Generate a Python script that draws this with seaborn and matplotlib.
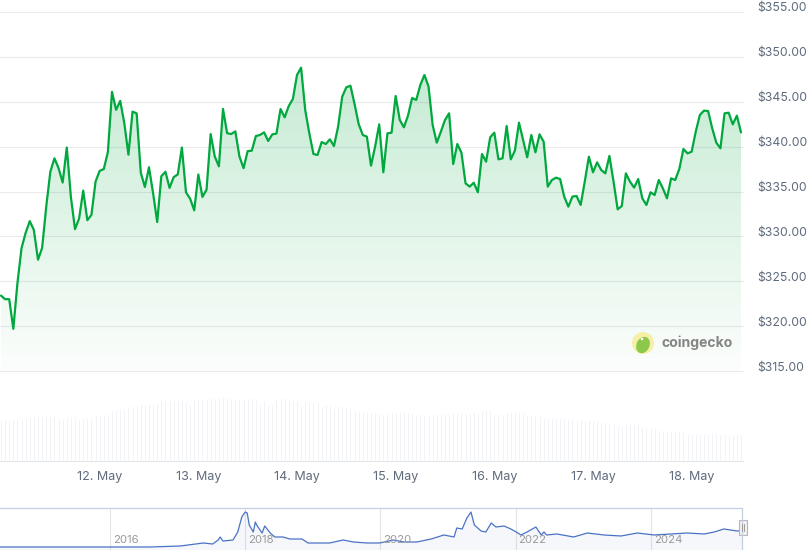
import numpy as np
import pandas as pd
import matplotlib
matplotlib.use("Agg")
import matplotlib.pyplot as plt
import matplotlib.dates as mdates
from matplotlib.transforms import ScaledTranslation, IdentityTransform, offset_copy
from matplotlib.patches import Circle, Ellipse, Rectangle
from matplotlib.lines import Line2D
import seaborn as sns

# ---------------- data ----------------
start_time = "2025-05-11 00:00"
prices = [
    323.4, 323.0, 323.0, 319.7, 324.8, 328.7, 330.4, 331.7, 330.7, 327.4,
    328.7, 333.3, 337.2, 338.7, 337.6, 336.0, 339.9, 334.4, 330.8, 332.0,
    335.1, 331.8, 332.4, 336.1, 337.3, 337.5, 339.4, 346.1, 344.1, 345.1,
    342.6, 339.1, 343.9, 343.7, 337.1, 335.5, 337.7, 334.8, 331.6, 336.7,
    337.2, 335.4, 336.6, 336.9, 339.9, 334.9, 334.2, 332.9, 336.9, 334.4,
    335.2, 341.4, 338.9, 337.8, 344.2, 341.5, 341.4, 341.7, 338.9, 337.6,
    339.5, 339.55, 341.18, 341.30, 341.59, 340.63, 341.37, 341.45, 344.19, 343.26,
    344.53, 345.31, 347.98, 348.80, 344.08, 341.48, 339.18, 339.07, 340.51, 340.29,
    340.81, 340.07, 342.22, 345.57, 346.61, 346.79, 344.75, 342.52, 341.30, 341.11,
    337.88, 340.00, 342.48, 337.14, 341.48, 341.55, 345.64, 342.97, 342.15, 343.45,
    345.42, 345.20, 346.87, 347.98, 346.68, 342.41, 340.44, 341.67, 342.97, 343.71,
    338.06, 340.29, 339.33, 335.91, 335.54, 335.98, 334.91, 339.18, 338.32, 341.04,
    341.55, 338.58, 338.70, 342.30, 338.58, 339.55, 342.67, 340.74, 338.81, 341.30,
    339.36, 341.37, 340.55, 335.54, 336.28, 336.54, 336.39, 334.43, 333.31, 334.43,
    334.50, 333.50, 336.10, 338.88, 337.14, 338.25, 337.40, 337.02, 338.96, 336.10,
    333.01, 333.38, 337.02, 336.10, 335.43, 336.39, 334.24, 333.50, 334.91, 334.61,
    336.28, 335.35, 334.24, 336.47, 336.28, 337.51, 339.74, 339.25, 339.44, 341.67,
    343.53, 344.01, 343.97, 342.04, 340.44, 339.81, 343.71, 343.78, 342.48, 343.45,
    341.59,
]
volumes = [
    417, 417, 417, 417, 417, 430, 440, 440, 440, 450,
    440, 450, 450, 450, 430, 417, 440, 450, 450, 430,
    430, 440, 440, 460, 460, 470, 470, 507, 520, 530,
    520, 540, 560, 560, 570, 570, 570, 570, 580, 610,
    610, 610, 600, 610, 610, 600, 570, 620, 620, 620,
    620, 640, 630, 630, 640, 640, 630, 630, 620, 620,
    630, 630, 620, 570, 610, 560, 570, 620, 630, 630,
    610, 610, 610, 560, 600, 600, 590, 590, 550, 570,
    560, 520, 550, 550, 550, 520, 510, 500, 500, 490,
    490, 480, 480, 470, 480, 490, 480, 500, 500, 480,
    480, 470, 470, 460, 470, 470, 470, 470, 480, 470,
    490, 490, 480, 480, 480, 490, 480, 510, 510, 510,
    470, 470, 470, 490, 490, 500, 500, 490, 460, 460,
    450, 450, 440, 430, 440, 430, 440, 440, 430, 420,
    420, 420, 410, 410, 410, 400, 390, 390, 380, 370,
    360, 350, 370, 370, 370, 370, 350, 340, 340, 330,
    310, 310, 300, 300, 290, 300, 290, 280, 280, 280,
    280, 280, 280, 290, 280, 270, 270, 260, 270, 270,
    270,
]
day_ticks = ["2025-05-12", "2025-05-13", "2025-05-14", "2025-05-15",
             "2025-05-16", "2025-05-17", "2025-05-18"]
price_ticks = [315, 320, 325, 330, 335, 340, 345, 350, 355]

nav_years = [
    2014.37, 2016.59, 2017.04, 2017.38, 2017.52, 2017.60, 2017.63, 2017.67, 2017.82, 2017.89,
    2017.95, 2018.00, 2018.03, 2018.06, 2018.12, 2018.15, 2018.17, 2018.25, 2018.29, 2018.37,
    2018.44, 2018.56, 2018.66, 2018.84, 2018.93, 2019.25, 2019.45, 2019.60, 2019.80, 2019.99,
    2020.19, 2020.35, 2020.54, 2020.75, 2020.94, 2021.09, 2021.13, 2021.21, 2021.28, 2021.34,
    2021.39, 2021.49, 2021.56, 2021.64, 2021.71, 2021.83, 2021.93, 2022.01, 2022.08, 2022.17,
    2022.30, 2022.38, 2022.42, 2022.46, 2022.61, 2022.86, 2023.06, 2023.31, 2023.56, 2023.80,
    2024.05, 2024.30, 2024.54, 2024.79, 2024.94, 2025.08, 2025.28, 2025.35,
]
nav_prices = [
    15, 15, 30, 75, 60, 120, 165, 105, 120, 240,
    465, 540, 525, 345, 240, 390, 345, 225, 330, 225,
    165, 165, 135, 135, 75, 75, 120, 90, 75, 75,
    120, 90, 90, 135, 195, 165, 300, 285, 450, 540,
    345, 255, 240, 375, 315, 330, 285, 240, 195, 240,
    315, 195, 240, 195, 210, 165, 225, 195, 180, 225,
    195, 210, 225, 210, 240, 285, 255, 255,
]
nav_year_ticks = [2016, 2018, 2020, 2022, 2024]

# ---------------- style ----------------
sns.set_style("white")
plt.rcParams["font.family"] = ["Inter", "DejaVu Sans"]

W, H = 808, 550
fig = plt.figure(figsize=(W / 100, H / 100), dpi=100)

def frac(x0, y_top, x1, y_bot):
    return [x0 / W, 1 - y_bot / H, (x1 - x0) / W, (y_bot - y_top) / H]

ax = fig.add_axes(frac(0, 12, 743, 371))
ax_vol = fig.add_axes(frac(0, 371, 743, 461))
ax_nav = fig.add_axes(frac(0, 508, 744, 550))

times = pd.date_range(start_time, periods=len(prices), freq="h")
df = pd.DataFrame({"time": times, "price": prices, "volume": volumes})

t0 = pd.Timestamp(start_time)
xlim = (t0 - pd.Timedelta(hours=0.243), t0 + pd.Timedelta(hours=180.49))

green = "#00a83e"
grid_c = "#e9ebef"
label_c = "#5f6b7c"

# ---------------- price pane ----------------
sns.lineplot(data=df, x="time", y="price", ax=ax, color=green, linewidth=1.6, zorder=4)
ax.set_xlim(*xlim)
ax.set_ylim(315, 355)

poly = ax.fill_between(df["time"], df["price"], 315, facecolor="none", edgecolor="none")
xnum = mdates.date2num([xlim[0], xlim[1]])
n = 256
alpha = np.linspace(0.015, 0.27, n)
grad = np.zeros((n, 1, 4))
grad[:, 0, 0] = 0 / 255
grad[:, 0, 1] = 168 / 255
grad[:, 0, 2] = 62 / 255
grad[:, 0, 3] = alpha
im = ax.imshow(grad, extent=[xnum[0], xnum[1], 315, 355], origin="lower",
               aspect="auto", zorder=2, interpolation="bilinear")
im.set_clip_path(poly.get_paths()[0], transform=ax.transData)
ax.set_xlim(*xlim)
ax.set_ylim(315, 355)

ax.set_yticks(price_ticks)
ax.set_yticklabels([f"${v:.2f}" for v in price_ticks])
ax.yaxis.tick_right()
ax.tick_params(axis="y", length=0, pad=10.1, labelsize=8.8, labelcolor=label_c)
ax.tick_params(axis="x", length=0, labelbottom=False)
offset = ScaledTranslation(0, 0.05, fig.dpi_scale_trans)
for lab in ax.get_yticklabels():
    lab.set_horizontalalignment("left")
    lab.set_transform(lab.get_transform() + offset)
ax.grid(False)
for v in price_ticks:
    ax.axhline(v, color=grid_c, linewidth=0.8, zorder=0, clip_on=False)
for s in ax.spines.values():
    s.set_visible(False)
ax.set_xlabel("")
ax.set_ylabel("")
ax.patch.set_alpha(0)

# ---------------- volume pane ----------------
ax_vol.bar(df["time"], df["volume"], width=0.5 / 24, color="#e8ecf2", zorder=2)
ax_vol.set_xlim(*xlim)
ax_vol.set_ylim(0, 900)
ax_vol.set_yticks([])
ax_vol.set_xticks(pd.to_datetime(day_ticks))
ax_vol.xaxis.set_major_formatter(mdates.DateFormatter("%-d. %b"))
ax_vol.tick_params(axis="x", length=4, width=0.8, color="#dfe4ea", pad=3.5,
                   labelsize=9, labelcolor=label_c)
for k, s in ax_vol.spines.items():
    s.set_visible(k == "bottom")
ax_vol.spines["bottom"].set_color("#e3e7ec")
ax_vol.spines["bottom"].set_linewidth(0.8)
ax_vol.patch.set_alpha(0)

# ---------------- watermark ----------------
ident = IdentityTransform()
cx, cy = 643, H - 343
logo_bg = Circle((cx, cy), 11, transform=ident, facecolor="#f6efa6", edgecolor="none")
fig.add_artist(logo_bg)
gecko = Ellipse((cx, cy - 2), 13, 17, angle=-25, transform=ident,
                facecolor="#8cc84b", edgecolor="none")
fig.add_artist(gecko)
fig.add_artist(Circle((cx - 1, cy + 4), 1.3, transform=ident, facecolor="#ffffff", edgecolor="none"))
fig.text(662 / W, 1 - 343 / H, "coingecko", fontsize=10.1, fontweight="bold",
         color="#858585", va="center", ha="left")

# ---------------- navigator ----------------
nav_df = pd.DataFrame({"year": nav_years, "price": nav_prices})
ax_nav.fill_between(nav_df["year"], nav_df["price"], -30, color="#4a72c4", alpha=0.05, lw=0)
sns.lineplot(data=nav_df, x="year", y="price", ax=ax_nav, color="#4a72c4", linewidth=0.9)
ax_nav.set_xlim(2014.373, 2025.379)
ax_nav.set_ylim(-30, 600)
ax_nav.set_xticks(nav_year_ticks)
ax_nav.set_yticks([])
ax_nav.tick_params(axis="x", length=0, labelbottom=False)
ax_nav.grid(axis="x", color="#e3e3e3", linewidth=0.8)
ax_nav.grid(axis="y", visible=False)
for s in ax_nav.spines.values():
    s.set_visible(False)
ax_nav.set_xlabel("")
ax_nav.set_ylabel("")
tr = offset_copy(ax_nav.get_xaxis_transform(), fig=fig, x=3, y=0, units="dots")
for yr in nav_year_ticks:
    ax_nav.text(yr, (550 - 540) / 42, str(yr), transform=tr, fontsize=8.2,
                color="#9a9a9a", va="center", ha="left")

outline_c = "#c3cfe2"
fig.add_artist(Line2D([0, 742], [H - 508, H - 508], transform=ident, color=outline_c, lw=0.9))
fig.add_artist(Line2D([742, 742], [H - 508, 0], transform=ident, color=outline_c, lw=0.9))
fig.add_artist(Rectangle((738.5, H - 535), 8, 15, transform=ident, facecolor="#f2f2f2",
                         edgecolor="#b5b5b5", lw=0.8))
fig.add_artist(Line2D([741.5, 741.5], [H - 531, H - 524], transform=ident, color="#999999", lw=0.7))
fig.add_artist(Line2D([743.5, 743.5], [H - 531, H - 524], transform=ident, color="#999999", lw=0.7))

fig.savefig("out.png", dpi=100, facecolor="white")
